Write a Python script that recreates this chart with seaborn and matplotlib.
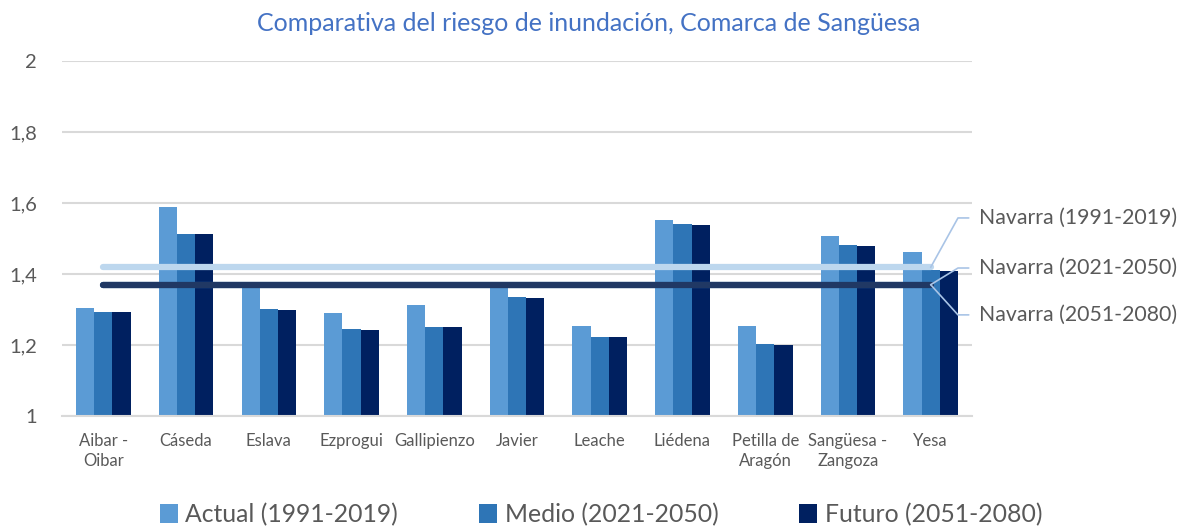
import pandas as pd
import matplotlib.pyplot as plt
import seaborn as sns
from matplotlib.patches import Patch

# Datos: índice de riesgo de inundación por municipio
municipios = ['Aibar -\nOibar', 'Cáseda', 'Eslava', 'Ezprogui', 'Gallipienzo', 'Javier',
              'Leache', 'Liédena', 'Petilla de\nAragón', 'Sangüesa -\nZangoza', 'Yesa']
actual = [1.304, 1.590, 1.375, 1.290, 1.313, 1.376, 1.254, 1.553, 1.254, 1.506, 1.462]
medio = [1.294, 1.514, 1.301, 1.245, 1.252, 1.334, 1.224, 1.541, 1.203, 1.481, 1.411]
futuro = [1.292, 1.512, 1.298, 1.242, 1.250, 1.332, 1.222, 1.538, 1.200, 1.478, 1.409]
periodos = ['Actual (1991-2019)', 'Medio (2021-2050)', 'Futuro (2051-2080)']

# Medias de Navarra
navarra_labels = ['Navarra (1991-2019)', 'Navarra (2021-2050)', 'Navarra (2051-2080)']
navarra = [1.419, 1.370, 1.370]

colores = ['#5B9BD5', '#2E75B6', '#002060']
colores_nav = ['#BDD7EE', '#2E75B6', '#203864']
gris = '#595959'

df = pd.DataFrame({
    'municipio': municipios * 3,
    'valor': actual + medio + futuro,
    'periodo': [p for p in periodos for _ in municipios],
})

sns.set_style('white')
plt.rcParams['font.family'] = ['Lato', 'DejaVu Sans']

fig = plt.figure(figsize=(11.85, 5.26), dpi=100)
ax = fig.add_axes([0.0523, 0.209, 0.768, 0.675])

sns.barplot(data=df, x='municipio', y='valor', hue='periodo', palette=colores,
            width=0.66, gap=0, linewidth=0, saturation=1, ax=ax, legend=False, zorder=2)

ax.set_ylim(1, 2)
ax.set_xlim(-0.5, len(municipios) - 0.5)
ticks = [1, 1.2, 1.4, 1.6, 1.8, 2]
ax.set_yticks(ticks)
ax.set_yticklabels([f'{t:g}'.replace('.', ',') for t in ticks], fontsize=14.5, color=gris)
ax.yaxis.grid(True, color='#D9D9D9', linewidth=1.5, zorder=0)
ax.set_axisbelow(True)
for s in ['top', 'right', 'left']:
    ax.spines[s].set_visible(False)
ax.spines['bottom'].set_color('#D9D9D9')
ax.spines['bottom'].set_linewidth(1.5)
ax.tick_params(axis='y', length=0, pad=18)
ax.tick_params(axis='x', length=0, pad=12, labelsize=12, labelcolor=gris)
for lbl in ax.get_xticklabels():
    lbl.set_linespacing(1.35)
ax.set_xlabel('')
ax.set_ylabel('')

# Líneas de Navarra, de la primera a la última categoría
x0, x1 = 0, len(municipios) - 1
for val, col in zip(navarra, colores_nav):
    ax.plot([x0, x1], [val, val], color=col, linewidth=4.5,
            solid_capstyle='round', zorder=5)

# Etiquetas con líneas guía
label_y = [1.558, 1.417, 1.285]
for val, ly, txt in zip(navarra, label_y, navarra_labels):
    ax.plot([x1, 10.33, 10.46], [val, ly, ly], color='#A9C4E6', linewidth=1.2,
            clip_on=False, zorder=6)
    ax.text(10.58, ly, txt, fontsize=15.3, color=gris, va='center', ha='left',
            clip_on=False)

fig.text(0.497, 0.955, 'Comparativa del riesgo de inundación, Comarca de Sangüesa',
         ha='center', va='center', fontsize=18, color='#4472C4')

handles = [Patch(facecolor=c, edgecolor='none') for c in colores]
fig.legend(handles, periodos, loc='center', bbox_to_anchor=(0.507, 0.022), ncol=3,
           frameon=False, fontsize=17.8, labelcolor=gris, handlelength=0.75,
           handleheight=0.75, handletextpad=0.3, columnspacing=3.25)

fig.savefig('out.png', dpi=100)
